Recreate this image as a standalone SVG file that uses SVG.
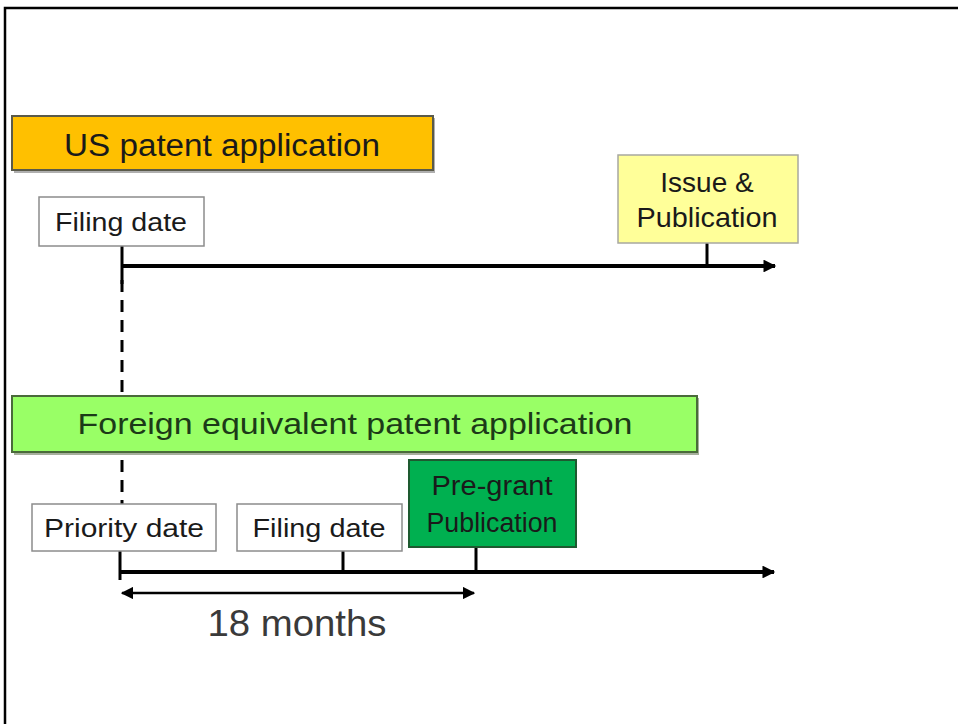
<svg xmlns="http://www.w3.org/2000/svg" width="958" height="724" viewBox="0 0 958 724">
<style>
.t{font-family:"Liberation Sans","Open Sans",Arial,sans-serif;fill:#1a1a1a;text-anchor:middle}
.ln{stroke:#000;stroke-width:4;fill:none}
.tk{stroke:#000;stroke-width:3;fill:none}
.wb{fill:#fff;stroke:#8c8c8c;stroke-width:1.5}
</style>
<defs>
<marker id="ah" viewBox="0 0 10 10" refX="9" refY="5" markerWidth="4" markerHeight="3.2" orient="auto-start-reverse" markerUnits="strokeWidth">
<path d="M0,0 L10,5 L0,10 z" fill="#000"/>
</marker>
<marker id="ah2" viewBox="0 0 10 10" refX="9" refY="5" markerWidth="5" markerHeight="5" orient="auto-start-reverse" markerUnits="strokeWidth">
<path d="M0,0 L10,5 L0,10 z" fill="#000"/>
</marker>
</defs>
<rect width="958" height="724" fill="#fff"/>
<path d="M5,724 V8 H958" fill="none" stroke="#000" stroke-width="2.5"/>

<g id="connectors">
<line class="tk" x1="122" y1="280" x2="122" y2="504" stroke-dasharray="12,8"/>
<line class="ln" x1="122" y1="266" x2="775" y2="266" marker-end="url(#ah)"/>
<line class="tk" x1="122" y1="246" x2="122" y2="284"/>
<line class="tk" x1="707" y1="243" x2="707" y2="266"/>
<line class="ln" x1="120" y1="572" x2="774" y2="572" marker-end="url(#ah)"/>
<line class="tk" x1="120" y1="551" x2="120" y2="580"/>
<line class="tk" x1="343" y1="551" x2="343" y2="572"/>
<line class="tk" x1="476" y1="547" x2="476" y2="572"/>
<line stroke="#000" stroke-width="2.5" x1="122" y1="593" x2="474" y2="593" marker-start="url(#ah2)" marker-end="url(#ah2)"/>
</g>

<g id="us-app">
<rect x="14" y="118" width="421" height="55" fill="#7a7a7a" opacity="0.6"/>
<rect x="12" y="116" width="421" height="54" fill="#FFC000" stroke="#5a5a4a" stroke-width="2"/>
<text class="t" x="222" y="156" font-size="31" textLength="316" lengthAdjust="spacingAndGlyphs">US patent application</text>
</g>

<g id="us-filing">
<rect class="wb" x="39" y="197" width="165" height="49"/>
<text class="t" x="121" y="231" font-size="25" textLength="132" lengthAdjust="spacingAndGlyphs">Filing date</text>
</g>

<g id="issue">
<rect x="618" y="155" width="180" height="88" fill="#FFFF99" stroke="#a8a8a0" stroke-width="1.5"/>
<text class="t" x="707" y="192" font-size="28">Issue &amp;</text>
<text class="t" x="707" y="227" font-size="28" textLength="141" lengthAdjust="spacingAndGlyphs">Publication</text>
</g>

<g id="foreign-app">
<rect x="14" y="398" width="685" height="57" fill="#6a7a5a" opacity="0.6"/>
<rect x="12" y="396" width="685" height="56" fill="#99FF66" stroke="#4a6a3a" stroke-width="2"/>
<text class="t" x="355" y="434" font-size="29" fill="#1c3a18" style="fill:#1c3a18" textLength="555" lengthAdjust="spacingAndGlyphs">Foreign equivalent patent application</text>
</g>

<g id="priority">
<rect class="wb" x="32" y="504" width="184" height="47"/>
<text class="t" x="124" y="537" font-size="25" textLength="160" lengthAdjust="spacingAndGlyphs">Priority date</text>
</g>

<g id="foreign-filing">
<rect class="wb" x="237" y="504" width="165" height="47"/>
<text class="t" x="319" y="537" font-size="25" textLength="133" lengthAdjust="spacingAndGlyphs">Filing date</text>
</g>

<g id="pregrant">
<rect x="409" y="460" width="167" height="87" fill="#00B050" stroke="#1e5a30" stroke-width="2"/>
<text class="t" x="492" y="495" font-size="27" textLength="121" lengthAdjust="spacingAndGlyphs">Pre-grant</text>
<text class="t" x="492" y="532" font-size="27" textLength="131" lengthAdjust="spacingAndGlyphs">Publication</text>
</g>

<g id="months">
<text class="t" x="297" y="636" font-size="37" style="fill:#3a3a3a" textLength="179" lengthAdjust="spacingAndGlyphs">18 months</text>
</g>
</svg>
